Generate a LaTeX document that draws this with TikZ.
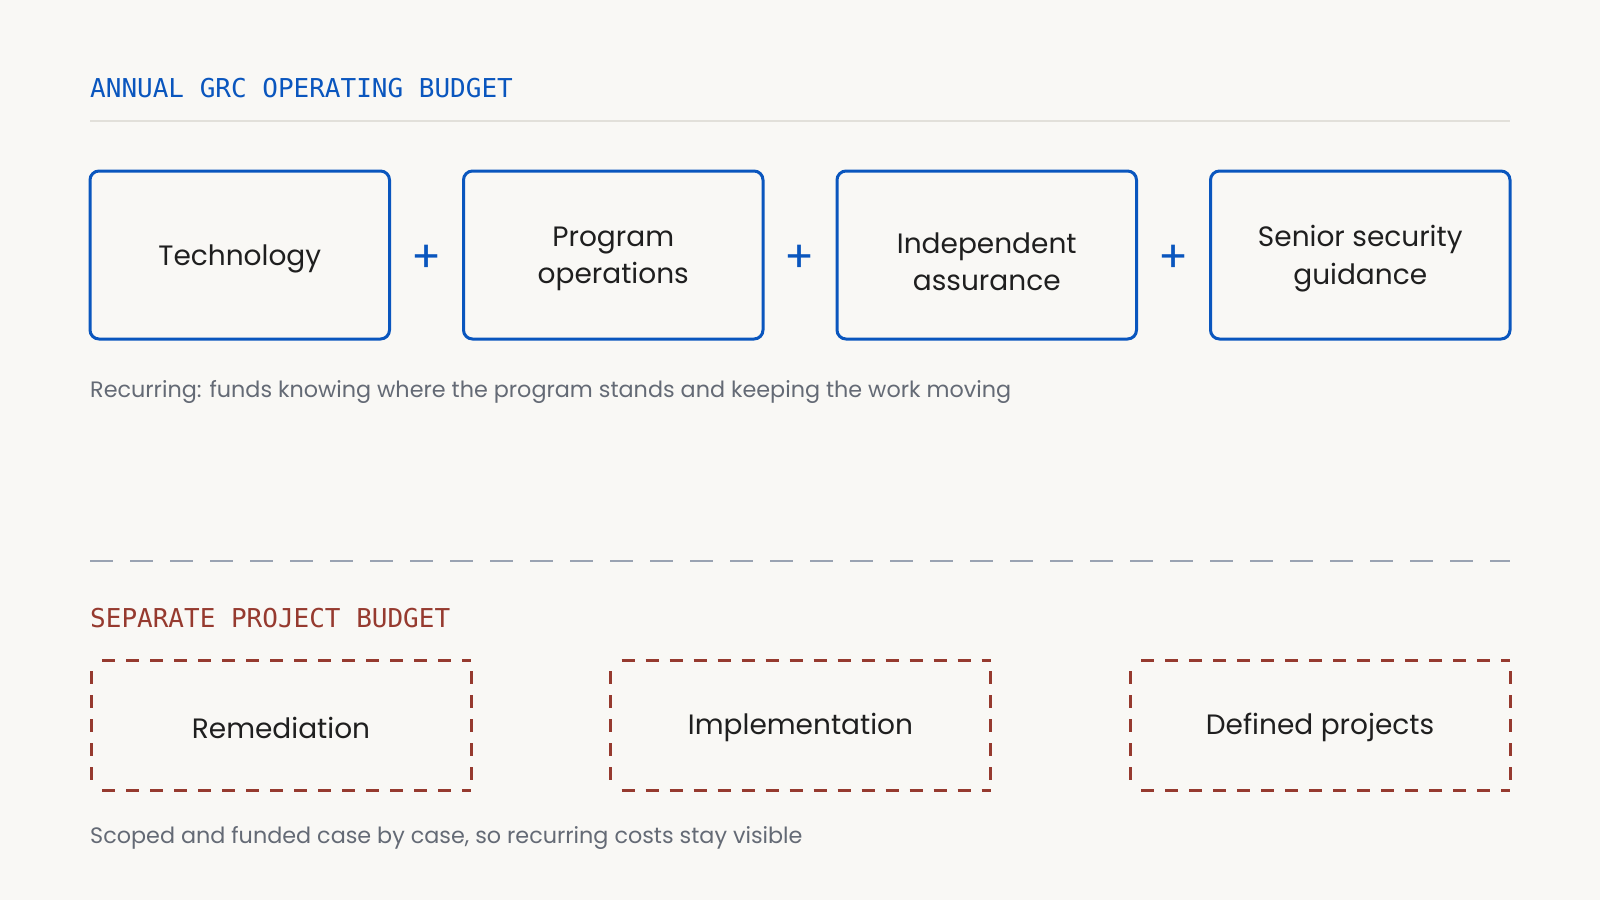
\documentclass[tikz,border=0pt]{standalone}
\usepackage{fontspec}
\usetikzlibrary{calc}
\setmainfont{Poppins}
\newfontfamily\monofont{DejaVu Sans Mono}
\definecolor{bgc}{HTML}{F9F8F5}
\definecolor{blu}{HTML}{0A56BE}
\definecolor{rdd}{HTML}{963A2F}
\definecolor{inkc}{HTML}{1F1F1F}
\definecolor{capc}{HTML}{646A75}
\definecolor{rulec}{HTML}{E2E0DA}
\definecolor{sepc}{HTML}{9AA3B2}
\tikzset{
  titletext/.style={anchor=base west, inner sep=0pt, font=\monofont\fontsize{26}{30}\selectfont},
  boxlabel/.style={anchor=base, inner sep=0pt, text=inkc, font=\fontsize{28}{34}\selectfont},
  captext/.style={anchor=base west, inner sep=0pt, text=capc, font=\fontsize{22.3}{27}\selectfont},
  opbox/.style={draw=blu, line width=3pt, rounded corners=9pt, minimum width=299.5pt, minimum height=168pt, inner sep=0pt},
  projbox/.style={draw=none, minimum width=380pt, minimum height=130pt, inner sep=0pt, outer sep=0pt},
  projedge/.style={draw=rdd, line width=3pt, dash pattern=on 13pt off 11pt, dash phase=13pt},
  plussign/.style={inner sep=0pt, text=blu, yshift=-3.5pt, font=\fontsize{44}{44}\selectfont},
}
\newcommand{\projframe}[1]{%
  \draw[projedge] (#1.north west) -- (#1.north east);
  \draw[projedge] (#1.south west) -- (#1.south east);
  \draw[projedge] (#1.north west) -- (#1.south west);
  \draw[projedge] (#1.north east) -- (#1.south east);
}
\begin{document}
\begin{tikzpicture}[x=1pt,y=-1pt]
\useasboundingbox (0,0) rectangle (1600,900);
\fill[bgc] (0,0) rectangle (1600,900);

% top section
\node[titletext, text=blu] (t1) at (90,97) {ANNUAL GRC OPERATING BUDGET};
\coordinate (r1) at (90,121);
\coordinate (r2) at (1510,121);
\draw[rulec, line width=2pt] (r1) -- (r2);

\node[opbox] (b1) at (239.75,255) {};
\node[opbox] (b2) at (613.25,255) {};
\node[opbox] (b3) at (986.75,255) {};
\node[opbox] (b4) at (1360.25,255) {};

\node[boxlabel] (l1) at (239.75,265) {Technology};
\node[boxlabel] (l2a) at (613.25,246) {Program};
\node[boxlabel] (l2b) at (613.25,283) {operations};
\node[boxlabel] (l3a) at (986.75,253) {Independent};
\node[boxlabel] (l3b) at (986.75,290) {assurance};
\node[boxlabel] (l4a) at (1360.25,246) {Senior security};
\node[boxlabel] (l4b) at (1360.25,284) {guidance};

\node[plussign] (p1) at ($(b1.east)!0.5!(b2.west)$) {+};
\node[plussign] (p2) at ($(b2.east)!0.5!(b3.west)$) {+};
\node[plussign] (p3) at ($(b3.east)!0.5!(b4.west)$) {+};

\node[captext] (c1) at (90,397) {Recurring: funds knowing where the program stands and keeping the work moving};

% separator
\coordinate (s1) at (90,561);
\coordinate (s2) at (1510,561);
\draw[sepc, line width=2.5pt, dash pattern=on 23pt off 17pt] (s1) -- (s2);

% bottom section
\node[titletext, text=rdd] (t2) at (90,627) {SEPARATE PROJECT BUDGET};

\node[projbox] (q1) at (281,725) {};
\node[projbox] (q2) at (800.5,725) {};
\node[projbox] (q3) at (1320,725) {};
\projframe{q1}
\projframe{q2}
\projframe{q3}

\node[boxlabel] (m1) at (281,738) {Remediation};
\node[boxlabel] (m2) at (800.5,734) {Implementation};
\node[boxlabel] (m3) at (1320,734) {Defined projects};

\node[captext] (c2) at (90,843) {Scoped and funded case by case, so recurring costs stay visible};
\end{tikzpicture}
\end{document}
